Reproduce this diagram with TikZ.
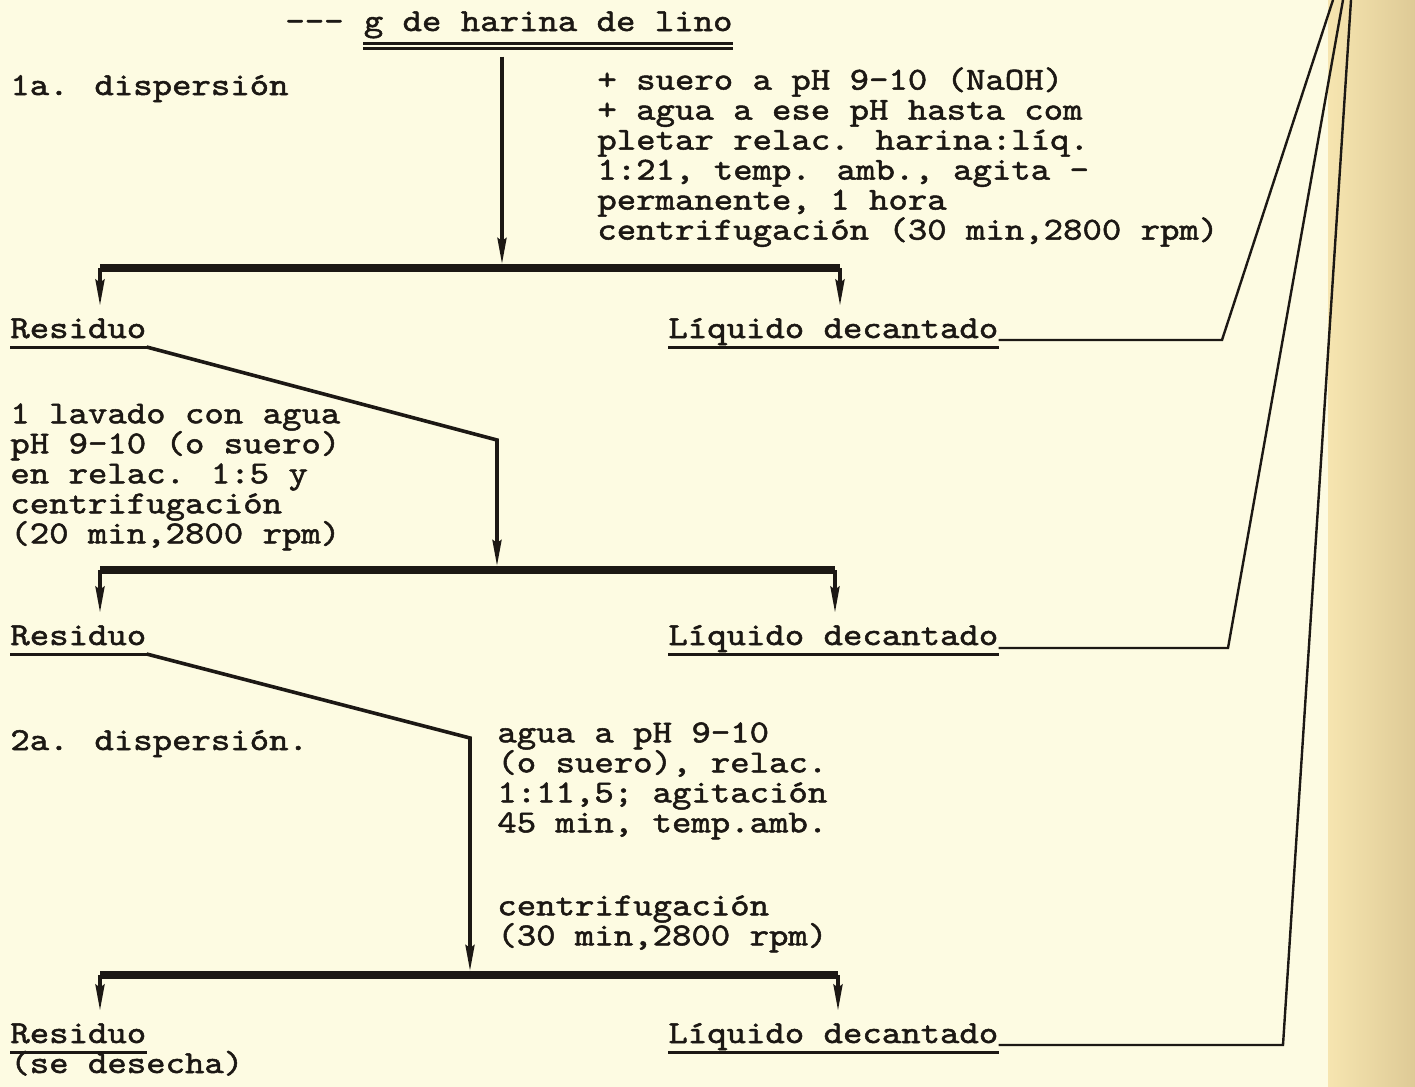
\documentclass[tikz,border=0pt]{standalone}
\usepackage{fontspec}
\usetikzlibrary{arrows.meta,positioning}
\newfontfamily\inkfont{lmmono10-regular}[Extension=.otf,FakeBold=1.6,FakeStretch=1.155]
\newcommand\typesize{\fontsize{16pt}{15pt}\selectfont\lineskiplimit=-20pt\relax}
\definecolor{paper}{RGB}{253,251,226}
\definecolor{fold}{RGB}{246,229,176}
\definecolor{foldedge}{RGB}{222,202,150}
\definecolor{ink}{RGB}{28,24,20}
\tikzset{
    typed/.style={font={\inkfont\typesize}, text=ink, inner sep=0pt, align=left, execute at begin node={\rule{0pt}{14pt}}},
    flow/.style={-{Stealth[length=13pt,width=4.5pt,inset=1.5pt]}, line width=1.8pt, draw=ink, shorten >=2pt},
    bar/.style={line width=4pt, draw=ink},
    underrule/.style={line width=1.5pt, draw=ink},
    feed/.style={line width=1.2pt, draw=ink}
}
\begin{document}
\begin{tikzpicture}[x=0.5pt, y=-0.5pt]
    % Paper
    \path[use as bounding box, fill=paper] (0,0) rectangle (1415,1087);
    \fill[left color=fold, right color=foldedge] (1328,0) rectangle (1415,1087);

    % Labels
    \node (dashes) [typed, anchor=base west] at (285,31) {-{}-{}-};
    \node (flour) [typed, base right=9.7pt of dashes] {g de harina de lino};
    \node (disp1) [typed, anchor=base west] at (10,95) {1a. dispersión};
    \node (add1) [typed, anchor=north west] at (597,67) {+ suero a pH 9-10 (NaOH)\\+ agua a ese pH hasta com\\pletar relac. harina:líq.\\1:21, temp. amb., agita -\\permanente, 1 hora\\centrifugación (30 min,2800 rpm)};
    \node (res1) [typed, anchor=base west] at (10,338) {Residuo};
    \node (liq1) [typed, anchor=base west] at (668,338) {Líquido decantado};
    \node (wash) [typed, anchor=north west] at (10,403) {1 lavado con agua\\pH 9-10 (o suero)\\en relac. 1:5 y\\centrifugación\\(20 min,2800 rpm)};
    \node (res2) [typed, anchor=base west] at (10,645) {Residuo};
    \node (liq2) [typed, anchor=base west] at (668,645) {Líquido decantado};
    \node (disp2) [typed, anchor=base west] at (10,750) {2a. dispersión.};
    \node (add2) [typed, anchor=north west] at (497,722) {agua a pH 9-10\\(o suero), relac.\\1:11,5; agitación\\45 min, temp.amb.};
    \node (spin) [typed, anchor=north west] at (497,895) {centrifugación\\(30 min,2800 rpm)};
    \node (res3) [typed, anchor=base west] at (10,1043) {Residuo};
    \node (discard) [typed, anchor=base west] at (10,1073) {(se desecha)};
    \node (liq3) [typed, anchor=base west] at (668,1043) {Líquido decantado};

    % Junctions
    \coordinate (b1l) at (100,268);
    \coordinate (b1m) at (502,268);
    \coordinate (b1r) at (840,268);
    \coordinate (k2) at (497,440);
    \coordinate (b2l) at (100,570);
    \coordinate (b2m) at (497,570);
    \coordinate (b2r) at (835,570);
    \coordinate (k3) at (470,738);
    \coordinate (b3l) at (100,975);
    \coordinate (b3m) at (470,975);
    \coordinate (b3r) at (838,975);
    \coordinate (c1) at (1222,340);
    \coordinate (c2) at (1228,648);
    \coordinate (c3) at (1283,1045);
    \coordinate (t1) at (1333,0);
    \coordinate (t2) at (1343,0);
    \coordinate (t3) at (1351,0);

    % Underlines
    \draw[underrule] ([yshift=-6pt]flour.base west) -- ([yshift=-6pt]flour.base east);
    \draw[underrule] ([yshift=-8.5pt]flour.base west) -- ([yshift=-8.5pt]flour.base east);
    \foreach \n in {res1,liq1,res2,liq2,res3,liq3}
        \draw[underrule] ([yshift=-4.5pt]\n.base west) -- ([yshift=-4.5pt]\n.base east);

    % Bars
    \draw[bar] (b1l) -- (b1r);
    \draw[bar] (b2l) -- (b2r);
    \draw[bar] (b3l) -- (b3r);

    % Arrows
    \draw[flow] ([yshift=-9pt]flour.south -| b1m) -- (b1m);
    \draw[flow] (b1l) -- (b1l |- res1.north);
    \draw[flow] (b1r) -- (b1r |- liq1.north);
    \draw[flow] ([yshift=-4.5pt]res1.base east) -- (k2) -- (b2m);
    \draw[flow] (b2l) -- (b2l |- res2.north);
    \draw[flow] (b2r) -- (b2r |- liq2.north);
    \draw[flow] ([yshift=-4.5pt]res2.base east) -- (k3) -- (b3m);
    \draw[flow] (b3l) -- (b3l |- res3.north);
    \draw[flow] (b3r) -- (b3r |- liq3.north);

    % Returns to the top
    \draw[feed] ([yshift=-1pt]liq1.base east) -- (c1) -- (t1);
    \draw[feed] ([yshift=-1.5pt]liq2.base east) -- (c2) -- (t2);
    \draw[feed] ([yshift=-1pt]liq3.base east) -- (c3) -- (t3);
\end{tikzpicture}
\end{document}
